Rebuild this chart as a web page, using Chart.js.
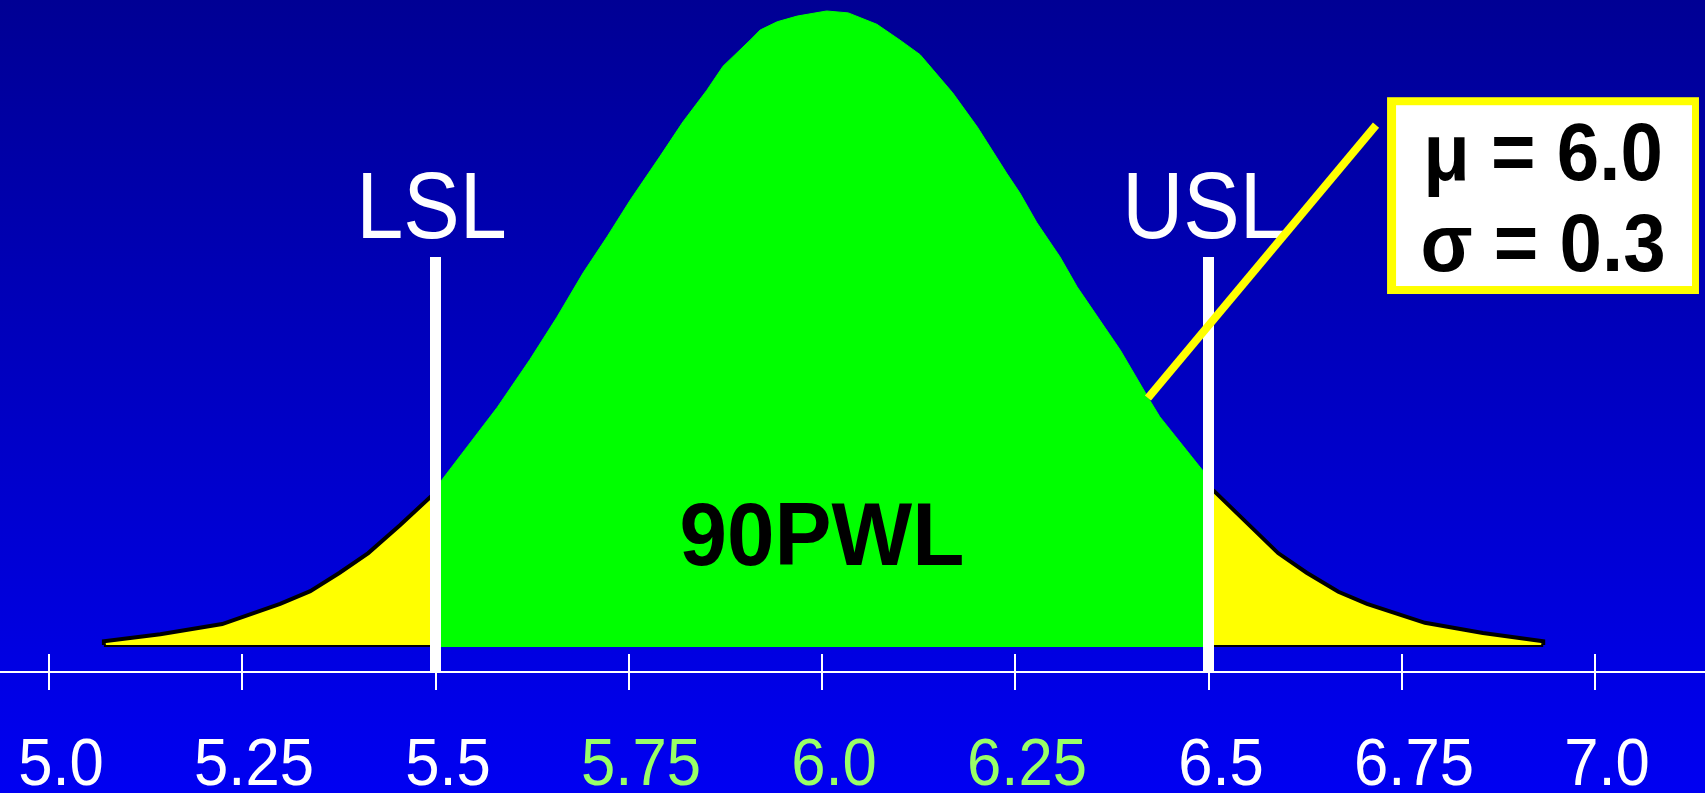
<!DOCTYPE html>
<html>
<head>
<meta charset="utf-8">
<script src="https://cdn.jsdelivr.net/npm/chart.js@4.4.1/dist/chart.umd.min.js"></script>
<style>
  html, body { margin: 0; padding: 0; background: #0000c0; overflow: hidden; }
  #wrap { width: 1705px; height: 793px; position: relative; }
</style>
</head>
<body>
<div id="wrap"><canvas id="myChart"></canvas></div>
<script>
const ctx = document.getElementById('myChart');

// curve (x = value, y = relative height, peak = 1)
const leftTailX = [5.071, 5.071, 5.144, 5.224, 5.299, 5.338, 5.376, 5.413, 5.454, 5.493, 5.50];
const leftTailY = [0, 0.006, 0.017, 0.033, 0.065, 0.085, 0.114, 0.145, 0.189, 0.233, 0.240];

const bellX = [5.50, 5.508, 5.580, 5.622, 5.657, 5.691, 5.722, 5.752, 5.790, 5.820, 5.851, 5.872, 5.907,
  5.920, 5.942, 5.968, 6.006, 6.034, 6.071, 6.101, 6.127, 6.169, 6.201, 6.239, 6.256, 6.278, 6.308,
  6.330, 6.386, 6.424, 6.437, 6.492, 6.50];
const bellY = [0.250, 0.260, 0.375, 0.450, 0.517, 0.587, 0.644, 0.702, 0.770, 0.825, 0.875, 0.913, 0.954,
  0.970, 0.983, 0.992, 1.000, 0.997, 0.979, 0.954, 0.931, 0.871, 0.817, 0.744, 0.713, 0.666, 0.612,
  0.565, 0.465, 0.386, 0.360, 0.276, 0.265];

const rightTailX = [6.50, 6.507, 6.590, 6.627, 6.668, 6.705, 6.780, 6.855, 6.933, 6.933];
const rightTailY = [0.250, 0.243, 0.145, 0.114, 0.084, 0.065, 0.035, 0.019, 0.006, 0];

const specValues = [5.5, 6.5];
const specLabels = ['LSL', 'USL'];
const specTop = 0.612;
const axisLevel = -0.0426;

const tickValues = [5.0, 5.25, 5.5, 5.75, 6.0, 6.25, 6.5, 6.75, 7.0];
const tickLabels = ['5.0', '5.25', '5.5', '5.75', '6.0', '6.25', '6.5', '6.75', '7.0'];
const highlightRange = [5.75, 6.25];

const pointerX = [6.4217, 6.7167];
const pointerY = [0.3896, 0.820];

const centerLabel = '90PWL';
const boxLines = ['μ = 6.0', 'σ = 0.3'];

function pts(xs, ys) {
  return xs.map((x, i) => ({ x: x, y: ys[i] }));
}

function squishText(c, text, x, y, sx) {
  c.save();
  c.translate(x, y);
  c.scale(sx, 1);
  c.fillText(text, 0, 0);
  c.restore();
}

const background = {
  id: 'background',
  beforeDraw(chart) {
    const c = chart.ctx;
    const g = c.createLinearGradient(0, 0, 0, chart.height);
    g.addColorStop(0, '#000094');
    g.addColorStop(1, '#0000f2');
    c.save();
    c.fillStyle = g;
    c.fillRect(0, 0, chart.width, chart.height);
    c.restore();
  }
};

const decor = {
  id: 'decor',
  beforeDatasetsDraw(chart) {
    const c = chart.ctx;
    const xs = chart.scales.x, ys = chart.scales.y;
    const ay = ys.getPixelForValue(axisLevel);
    c.save();
    // axis line + ticks
    c.strokeStyle = '#ffffff';
    c.lineWidth = 2;
    c.beginPath();
    c.moveTo(0, ay);
    c.lineTo(chart.width, ay);
    c.stroke();
    tickValues.forEach((v, i) => {
      const px = Math.round(xs.getPixelForValue(v));
      c.beginPath();
      c.moveTo(px, ay - 18);
      c.lineTo(px, ay + 18);
      c.stroke();
      const hi = v >= highlightRange[0] && v <= highlightRange[1];
      c.fillStyle = hi ? '#99ff66' : '#ffffff';
      c.font = '67px "Liberation Sans", Arial, sans-serif';
      c.textAlign = 'center';
      c.textBaseline = 'alphabetic';
      squishText(c, tickLabels[i], px + 12, ay + 113, 0.92);
    });
    // LSL / USL captions
    c.fillStyle = '#ffffff';
    c.font = '94px "Liberation Sans", Arial, sans-serif';
    c.textAlign = 'center';
    specValues.forEach((v, i) => {
      squishText(c, specLabels[i], xs.getPixelForValue(v) - 4, ys.getPixelForValue(0.642), 0.9);
    });
    c.restore();
  },
  afterDatasetsDraw(chart) {
    const c = chart.ctx;
    const xs = chart.scales.x, ys = chart.scales.y;
    c.save();
    c.fillStyle = '#000000';
    c.textAlign = 'center';
    c.textBaseline = 'alphabetic';
    c.font = 'bold 89px "Liberation Sans", Arial, sans-serif';
    squishText(c, centerLabel, xs.getPixelForValue(6.0), ys.getPixelForValue(0.126), 0.96);

    // parameter box
    const l = xs.getPixelForValue(6.731), r = xs.getPixelForValue(7.1345);
    const t = ys.getPixelForValue(0.864), b = ys.getPixelForValue(0.5536);
    c.fillStyle = '#ffff00';
    c.fillRect(l, t, r - l, b - t);
    c.fillStyle = '#ffffff';
    c.fillRect(l + 9, t + 8, r - l - 16, b - t - 16);
    c.fillStyle = '#000000';
    c.font = 'bold 82px "Liberation Sans", Arial, sans-serif';
    const cx = (l + r) / 2;
    squishText(c, boxLines[0], cx, t + 83, 0.93);
    squishText(c, boxLines[1], cx, t + 174, 0.93);
    c.restore();
  }
};

new Chart(ctx, {
  type: 'line',
  data: {
    datasets: [
      {
        label: 'pointer',
        data: pts(pointerX, pointerY),
        borderColor: '#ffff00',
        borderWidth: 8,
        borderCapStyle: 'butt',
        fill: false,
        order: 0
      },
      {
        label: 'LSL',
        data: pts([specValues[0], specValues[0]], [axisLevel, specTop]),
        borderColor: '#ffffff',
        borderWidth: 11,
        borderCapStyle: 'butt',
        fill: false,
        order: 1
      },
      {
        label: 'USL',
        data: pts([specValues[1], specValues[1]], [axisLevel, specTop]),
        borderColor: '#ffffff',
        borderWidth: 11,
        borderCapStyle: 'butt',
        fill: false,
        order: 1
      },
      {
        label: 'left tail',
        data: pts(leftTailX, leftTailY),
        borderColor: '#000000',
        borderWidth: 4,
        backgroundColor: '#ffff00',
        fill: { value: 0 },
        order: 2
      },
      {
        label: 'left base',
        data: pts([leftTailX[0], specValues[0]], [0, 0]),
        borderColor: '#000000',
        borderWidth: 4,
        fill: false,
        order: 2
      },
      {
        label: 'right tail',
        data: pts(rightTailX, rightTailY),
        borderColor: '#000000',
        borderWidth: 4,
        backgroundColor: '#ffff00',
        fill: { value: 0 },
        order: 2
      },
      {
        label: 'right base',
        data: pts([specValues[1], rightTailX[rightTailX.length - 1]], [0, 0]),
        borderColor: '#000000',
        borderWidth: 4,
        fill: false,
        order: 2
      },
      {
        label: 'within spec',
        data: pts(bellX, bellY),
        borderColor: '#00ff00',
        borderWidth: 1,
        backgroundColor: '#00ff00',
        fill: { value: -0.003 },
        order: 3
      }
    ]
  },
  options: {
    responsive: true,
    maintainAspectRatio: false,
    animation: false,
    events: [],
    layout: { padding: 0 },
    elements: {
      point: { radius: 0 },
      line: { tension: 0, borderJoinStyle: 'miter' }
    },
    plugins: {
      legend: { display: false },
      tooltip: { enabled: false }
    },
    scales: {
      x: { type: 'linear', min: 4.93661, max: 7.1423, display: false },
      y: { type: 'linear', min: -0.23344, max: 1.01735, display: false }
    }
  },
  plugins: [background, decor]
});
</script>
</body>
</html>
